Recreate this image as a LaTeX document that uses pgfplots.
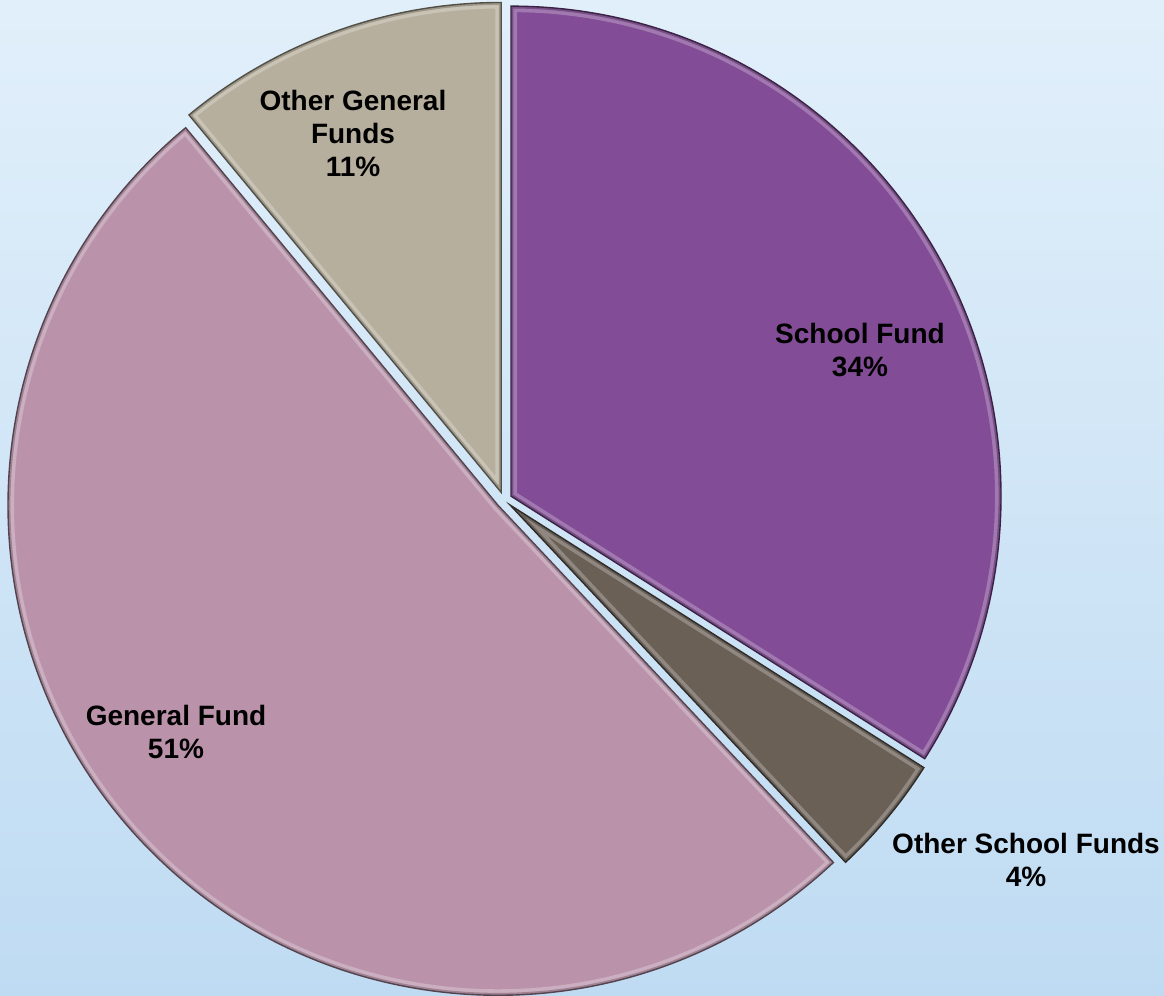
\documentclass[border=0pt]{standalone}
\usepackage{pgfplots}
\pgfplotsset{compat=1.18}
\usepackage{pgfplotstable}
\usepackage{fontspec}
\setmainfont{Liberation Sans}
\usetikzlibrary{calc}

\definecolor{schoolc}{HTML}{824C96}
\definecolor{oschoolc}{HTML}{6A6056}
\definecolor{generalc}{HTML}{BA93AB}
\definecolor{ogeneralc}{HTML}{B7AF9D}
\definecolor{bgtop}{HTML}{F2F9FE}
\definecolor{bgmid}{HTML}{BDDAF2}
\definecolor{bgbot}{HTML}{CDE4F7}
\pgfdeclareverticalshading{bgshade}{100bp}{color(0bp)=(bgbot); color(22bp)=(bgmid); color(100bp)=(bgtop)}

% share of each fund, percent
\pgfplotstableread{
fund         value
School       34
OtherSchool  4
General      51
OtherGeneral 11
}\fundtable

\def\radius{245pt}
\def\explode{4pt}

% one exploded slice: start angle, end angle, colour
\newcommand\slice[3]{%
  \fill[#3] ($(axis cs:504,496)+({(#1+#2)/2}:\explode)$) -- ++(#1:\radius)
      arc[start angle=#1, end angle=#2, radius=\radius] -- cycle;
  \begin{scope}
    \clip ($(axis cs:504,496)+({(#1+#2)/2}:\explode)$) -- ++(#1:\radius)
      arc[start angle=#1, end angle=#2, radius=\radius] -- cycle;
    \draw[#3!50!white, line width=6pt, opacity=0.5, line join=miter]
      ($(axis cs:504,496)+({(#1+#2)/2}:\explode)$) -- ++(#1:\radius)
      arc[start angle=#1, end angle=#2, radius=\radius] -- cycle;
    \draw[#3!70!black, line width=2.4pt, opacity=0.6, line join=miter]
      ($(axis cs:504,496)+({(#1+#2)/2}:\explode)$) -- ++(#1:\radius)
      arc[start angle=#1, end angle=#2, radius=\radius] -- cycle;
  \end{scope}
  \draw[#3!45!black, line width=0.7pt, line join=miter]
    ($(axis cs:504,496)+({(#1+#2)/2}:\explode)$) -- ++(#1:\radius)
    arc[start angle=#1, end angle=#2, radius=\radius] -- cycle;
}

\begin{document}
\begin{tikzpicture}
\pgfplotstablegetelem{0}{value}\of\fundtable \pgfmathsetmacro\aA{90-3.6*\pgfplotsretval}
\pgfplotstablegetelem{1}{value}\of\fundtable \pgfmathsetmacro\aB{\aA-3.6*\pgfplotsretval}
\pgfplotstablegetelem{2}{value}\of\fundtable \pgfmathsetmacro\aC{\aB-3.6*\pgfplotsretval}
\pgfplotstablegetelem{3}{value}\of\fundtable \pgfmathsetmacro\aD{\aC-3.6*\pgfplotsretval}
\begin{axis}[
  name=pie,
  hide axis,
  scale only axis,
  width=582pt, height=498pt,
  xmin=0, xmax=1164, ymin=0, ymax=996,
  clip=false,
]
\pgfplotsextra{%
  \shade[shading=bgshade] (axis cs:0,0) rectangle (axis cs:1164,996);
  \slice{90}{\aA}{schoolc}
  \slice{\aA}{\aB}{oschoolc}
  \slice{\aB}{\aC}{generalc}
  \slice{\aC}{\aD}{ogeneralc}
}
\begin{scope}[every node/.style={font=\fontsize{14pt}{16.5pt}\selectfont\bfseries, align=center}]
\node at (axis cs:353,863) {Other General\\Funds\\11\%};
\node at (axis cs:860,646) {School Fund\\34\%};
\node at (axis cs:176,264) {General Fund\\51\%};
\node at (axis cs:1026,136) {Other School Funds\\4\%};
\end{scope}
\end{axis}
\pgfresetboundingbox
\path[use as bounding box] (pie.south west) rectangle (pie.north east);
\end{tikzpicture}
\end{document}
